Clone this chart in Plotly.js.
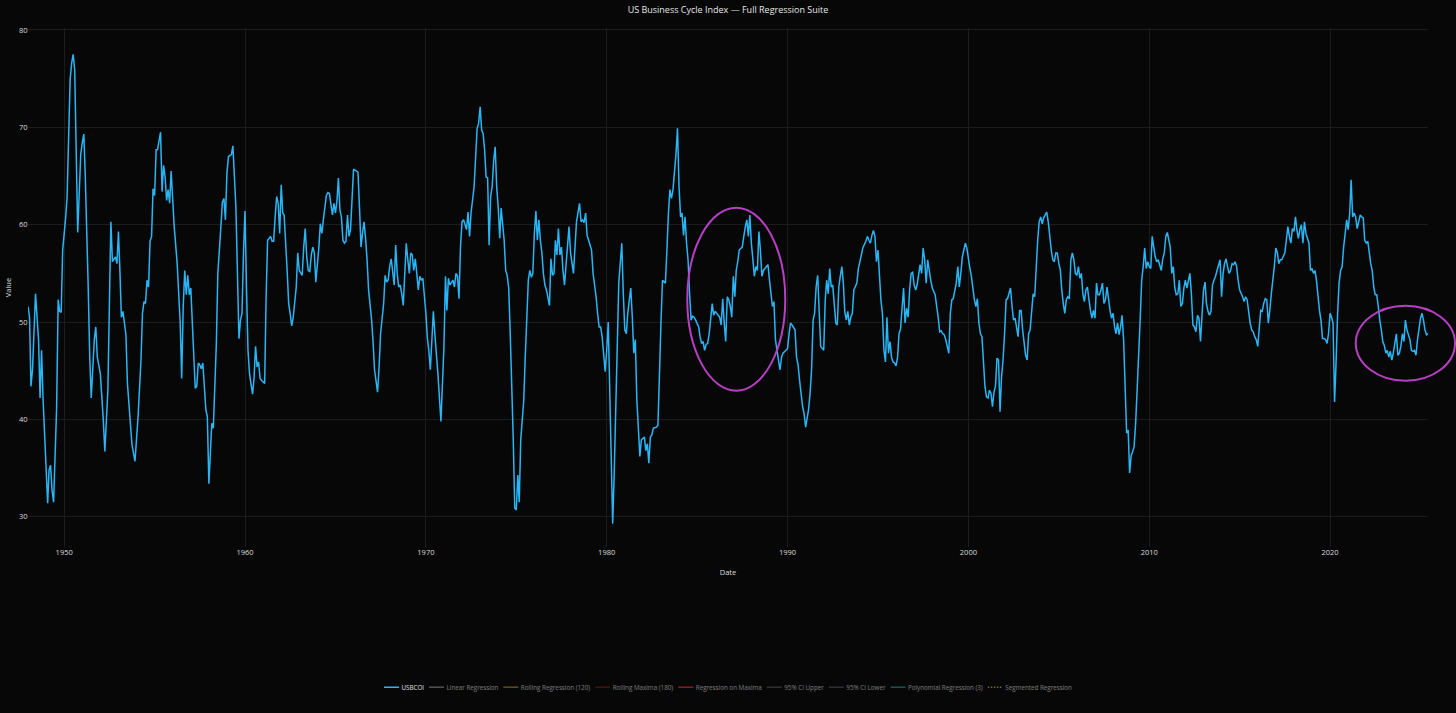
<!DOCTYPE html>
<html>
<head>
<meta charset="utf-8">
<script src="https://cdn.plot.ly/plotly-3.0.1.min.js"></script>
<style>
  html, body { margin: 0; padding: 0; background: #070707; overflow: hidden; }
  /* drawn at double size, then shrunk to the 1456x713 frame */
  #plot { width: 2912px; height: 1426px; transform: scale(0.5); transform-origin: 0 0; }
</style>
</head>
<body>
<div id="plot"></div>
<script>
// monthly readings of the index
var dates = [
  "1948-01","1948-02","1948-03","1948-04","1948-06","1948-08","1948-09","1948-10","1948-11",
  "1949-01","1949-02","1949-03","1949-04","1949-05","1949-06","1949-08","1949-09","1949-10","1949-11","1949-12",
  "1950-02","1950-03","1950-05","1950-06","1950-07","1950-08","1950-09","1950-10","1950-12",
  "1951-01","1951-02","1951-03","1951-05","1951-06","1951-07","1951-09","1951-10","1951-11",
  "1952-01","1952-03","1952-04","1952-06","1952-07","1952-08","1952-09","1952-11","1952-12",
  "1953-01","1953-02","1953-03","1953-04","1953-06","1953-07","1953-09","1953-10","1953-12",
  "1954-02","1954-04","1954-05","1954-06","1954-07","1954-08","1954-09","1954-10","1954-11","1954-12",
  "1955-01","1955-02","1955-03","1955-05","1955-06","1955-07","1955-08","1955-09","1955-10","1955-11","1955-12",
  "1956-02","1956-03","1956-04","1956-06","1956-07","1956-08","1956-09","1956-10","1956-11","1956-12",
  "1957-01","1957-02","1957-04","1957-05","1957-06","1957-07","1957-08","1957-09","1957-11","1957-12",
  "1958-01","1958-03","1958-04","1958-06","1958-07","1958-09","1958-10","1958-11","1958-12",
  "1959-01","1959-02","1959-04","1959-05","1959-07","1959-08","1959-09","1959-10","1959-11","1959-12",
  "1960-01","1960-02","1960-03","1960-04","1960-06","1960-07","1960-08","1960-09","1960-10","1960-11","1960-12",
  "1961-02","1961-03","1961-04","1961-06","1961-07","1961-08","1961-09","1961-10","1961-11","1961-12",
  "1962-01","1962-02","1962-03","1962-04","1962-05","1962-06","1962-07","1962-08","1962-09","1962-11","1962-12",
  "1963-01","1963-03","1963-04","1963-05","1963-06","1963-07","1963-08","1963-09","1963-10","1963-11","1963-12",
  "1964-02","1964-03","1964-04","1964-05","1964-07","1964-08","1964-09","1964-11","1964-12",
  "1965-01","1965-02","1965-03","1965-04","1965-05","1965-06","1965-07","1965-08","1965-09","1965-10","1965-11","1965-12",
  "1966-01","1966-03","1966-04","1966-05","1966-06","1966-07","1966-08","1966-09","1966-10","1966-11",
  "1967-01","1967-02","1967-03","1967-05","1967-06","1967-07","1967-09","1967-10","1967-11","1967-12",
  "1968-01","1968-02","1968-03","1968-04","1968-05","1968-06","1968-07","1968-08","1968-09","1968-10","1968-11","1968-12",
  "1969-01","1969-02","1969-03","1969-04","1969-05","1969-06","1969-07","1969-08","1969-09","1969-10","1969-11","1969-12",
  "1970-01","1970-02","1970-03","1970-04","1970-06","1970-07","1970-09","1970-11",
  "1971-01","1971-02","1971-03","1971-04","1971-05","1971-07","1971-08","1971-09","1971-10","1971-11","1971-12",
  "1972-01","1972-02","1972-04","1972-05","1972-06","1972-07","1972-09","1972-10","1972-11","1972-12",
  "1973-01","1973-02","1973-03","1973-04","1973-05","1973-06","1973-07","1973-08","1973-09","1973-10","1973-11","1973-12",
  "1974-01","1974-02","1974-03","1974-05","1974-06","1974-07","1974-08","1974-09","1974-10","1974-11","1974-12",
  "1975-01","1975-02","1975-03","1975-04","1975-06","1975-07","1975-08","1975-09","1975-10","1975-11","1975-12",
  "1976-01","1976-02","1976-03","1976-04","1976-05","1976-06","1976-07","1976-08","1976-09","1976-11","1976-12",
  "1977-01","1977-02","1977-03","1977-04","1977-05","1977-06","1977-07","1977-08","1977-09","1977-10","1977-12",
  "1978-01","1978-03","1978-04","1978-05","1978-07","1978-08","1978-09","1978-10","1978-11","1978-12",
  "1979-01","1979-03","1979-04","1979-06","1979-07","1979-08","1979-09","1979-10","1979-12",
  "1980-01","1980-02","1980-03","1980-04","1980-05","1980-06","1980-07","1980-08","1980-09","1980-11","1980-12",
  "1981-01","1981-02","1981-03","1981-05","1981-06","1981-07","1981-08","1981-09","1981-11","1981-12",
  "1982-02","1982-03","1982-04","1982-05","1982-06","1982-07","1982-08","1982-10","1982-11","1982-12",
  "1983-01","1983-02","1983-04","1983-05","1983-06","1983-07","1983-08","1983-09","1983-10","1983-11","1983-12",
  "1984-01","1984-02","1984-03","1984-04","1984-05","1984-06","1984-07","1984-08","1984-09","1984-10","1984-11","1984-12",
  "1985-02","1985-03","1985-04","1985-05","1985-06","1985-07","1985-08","1985-09","1985-10","1985-11","1985-12",
  "1986-01","1986-03","1986-04","1986-05","1986-06","1986-07","1986-08","1986-09","1986-10","1986-11","1986-12",
  "1987-01","1987-02","1987-03","1987-04","1987-05","1987-07","1987-08","1987-09","1987-10","1987-11","1987-12",
  "1988-01","1988-02","1988-03","1988-04","1988-05","1988-06","1988-07","1988-08","1988-09","1988-11","1988-12",
  "1989-01","1989-02","1989-03","1989-04","1989-05","1989-07","1989-08","1989-09","1989-10","1989-12",
  "1990-01","1990-02","1990-03","1990-04","1990-06","1990-07","1990-08","1990-09","1990-10","1990-11","1990-12",
  "1991-01","1991-03","1991-04","1991-05","1991-06","1991-07","1991-08","1991-09","1991-10","1991-11",
  "1992-01","1992-02","1992-03","1992-04","1992-05","1992-06","1992-07","1992-08","1992-09","1992-10","1992-11","1992-12",
  "1993-01","1993-02","1993-03","1993-04","1993-05","1993-06","1993-07","1993-08","1993-09","1993-11","1993-12",
  "1994-01","1994-02","1994-03","1994-05","1994-06","1994-07","1994-08","1994-09","1994-10","1994-11","1994-12",
  "1995-01","1995-02","1995-03","1995-04","1995-05","1995-06","1995-07","1995-08","1995-09","1995-10","1995-11","1995-12",
  "1996-01","1996-02","1996-03","1996-04","1996-06","1996-07","1996-08","1996-09","1996-10","1996-11","1996-12",
  "1997-01","1997-02","1997-03","1997-04","1997-05","1997-06","1997-07","1997-08","1997-09","1997-10","1997-11","1997-12",
  "1998-01","1998-03","1998-04","1998-05","1998-06","1998-07","1998-08","1998-09","1998-10","1998-11","1998-12",
  "1999-01","1999-02","1999-03","1999-05","1999-06","1999-07","1999-08","1999-09","1999-10","1999-11","1999-12",
  "2000-01","2000-02","2000-03","2000-04","2000-05","2000-06","2000-07","2000-08","2000-09","2000-10","2000-11","2000-12",
  "2001-01","2001-02","2001-03","2001-04","2001-05","2001-06","2001-07","2001-08","2001-09","2001-10","2001-11","2001-12",
  "2002-01","2002-02","2002-03","2002-04","2002-05","2002-06","2002-07","2002-08","2002-09","2002-10","2002-11","2002-12",
  "2003-01","2003-03","2003-04","2003-05","2003-06","2003-07","2003-08","2003-09","2003-10","2003-11","2003-12",
  "2004-01","2004-02","2004-03","2004-04","2004-05","2004-06","2004-07","2004-08","2004-09","2004-10","2004-11","2004-12",
  "2005-01","2005-02","2005-03","2005-04","2005-05","2005-06","2005-07","2005-08","2005-09","2005-10","2005-11","2005-12",
  "2006-01","2006-02","2006-03","2006-04","2006-05","2006-06","2006-07","2006-08","2006-09","2006-10","2006-11","2006-12",
  "2007-01","2007-02","2007-03","2007-04","2007-05","2007-06","2007-07","2007-08","2007-09","2007-10","2007-11","2007-12",
  "2008-01","2008-02","2008-03","2008-04","2008-05","2008-06","2008-07","2008-08","2008-09","2008-10","2008-11","2008-12",
  "2009-01","2009-02","2009-03","2009-04","2009-05","2009-06","2009-07","2009-08","2009-09","2009-10","2009-11","2009-12",
  "2010-01","2010-02","2010-03","2010-04","2010-05","2010-06","2010-07","2010-09","2010-10","2010-11","2010-12",
  "2011-01","2011-02","2011-03","2011-04","2011-05","2011-06","2011-07","2011-08","2011-09","2011-10","2011-11","2011-12",
  "2012-01","2012-02","2012-04","2012-05","2012-06","2012-07","2012-08","2012-09","2012-10","2012-11","2012-12",
  "2013-01","2013-02","2013-03","2013-04","2013-05","2013-06","2013-07","2013-08","2013-09","2013-10","2013-12",
  "2014-01","2014-02","2014-03","2014-04","2014-05","2014-06","2014-07","2014-08","2014-09","2014-10","2014-11","2014-12",
  "2015-01","2015-03","2015-04","2015-05","2015-06","2015-07","2015-08","2015-09","2015-10","2015-11","2015-12",
  "2016-01","2016-02","2016-03","2016-04","2016-05","2016-06","2016-07","2016-08","2016-09","2016-10","2016-11","2016-12",
  "2017-01","2017-02","2017-03","2017-04","2017-05","2017-07","2017-08","2017-09","2017-10","2017-11","2017-12",
  "2018-01","2018-02","2018-03","2018-04","2018-05","2018-06","2018-07","2018-08","2018-09","2018-10","2018-11","2018-12",
  "2019-01","2019-02","2019-03","2019-04","2019-05","2019-06","2019-07","2019-08","2019-09","2019-10","2019-11","2019-12",
  "2020-01","2020-02","2020-03","2020-04","2020-05","2020-06","2020-07","2020-08","2020-09","2020-10","2020-11","2020-12",
  "2021-01","2021-02","2021-03","2021-04","2021-05","2021-06","2021-07","2021-08","2021-09","2021-10","2021-11","2021-12",
  "2022-01","2022-02","2022-03","2022-04","2022-05","2022-06","2022-07","2022-08","2022-09","2022-10","2022-11","2022-12",
  "2023-01","2023-02","2023-03","2023-04","2023-05","2023-06","2023-07","2023-08","2023-09","2023-10","2023-11","2023-12",
  "2024-01","2024-02","2024-03","2024-04","2024-05","2024-06","2024-07","2024-08","2024-09","2024-10","2024-11","2024-12",
  "2025-01","2025-02","2025-03","2025-04","2025-05","2025-06"
];

var usbcoi = [
  51.6,50.5,43.4,45.1,52.9,48.2,42.2,47.1,42.0,
  35.1,31.4,34.8,35.3,32.7,31.5,41.2,52.3,51.1,51.0,57.4,
  60.8,62.9,74.9,76.6,77.5,75.9,67.7,59.2,67.2,
  68.4,69.3,65.3,53.6,46.4,42.2,48.2,49.5,46.4,
  44.7,39.9,36.7,43.0,51.6,60.3,56.2,56.7,56.0,
  59.3,55.0,50.5,51.1,48.7,43.7,39.6,37.4,35.7,
  40.3,46.1,50.9,52.1,51.9,54.3,53.6,58.3,58.8,63.7,
  63.0,67.7,67.7,69.5,63.4,66.1,64.9,62.5,63.6,62.2,65.5,
  59.8,57.7,56.0,49.9,44.2,51.6,55.3,52.8,54.8,52.8,
  53.5,49.9,43.2,43.4,45.8,45.6,45.2,45.8,41.0,40.3,
  33.4,39.6,39.1,47.8,55.0,59.8,62.3,62.7,60.5,
  65.3,67.0,67.2,68.1,61.8,54.3,48.3,50.2,50.9,57.1,
  61.4,53.3,47.1,44.7,42.6,44.2,47.5,45.4,45.9,44.2,44.0,
  43.7,52.3,58.4,58.8,58.3,58.3,60.8,62.9,62.2,59.1,
  64.1,61.2,61.0,58.4,55.3,51.9,50.9,49.6,50.5,53.6,57.1,
  55.3,54.8,57.7,59.6,56.7,55.3,55.2,56.9,57.7,57.1,54.1,
  57.7,60.1,59.1,60.5,63.0,63.3,63.2,61.0,62.2,
  61.2,62.5,64.8,61.5,60.8,58.4,58.1,58.3,61.0,58.8,59.5,62.7,
  65.7,65.5,65.4,61.8,57.7,59.1,60.3,58.6,56.4,53.3,
  50.2,47.8,45.1,42.8,45.4,48.8,51.9,54.8,54.1,54.3,
  55.7,56.5,55.3,53.8,57.9,55.0,53.6,53.8,52.9,51.7,55.0,58.1,
  56.4,55.0,57.1,56.9,55.3,56.5,55.0,53.3,54.7,54.3,54.5,52.9,
  50.9,48.3,47.1,45.1,51.1,48.8,44.7,39.8,
  47.5,54.7,51.2,54.5,53.8,54.3,53.6,55.0,54.7,52.4,57.7,
  60.3,60.5,59.5,61.3,58.8,61.2,63.9,67.0,69.9,70.4,
  72.1,69.7,69.4,67.7,64.9,64.8,57.9,62.9,63.9,66.6,68.0,63.9,
  61.8,58.6,61.7,58.4,55.3,54.8,53.5,48.8,44.0,37.9,30.9,
  30.7,34.3,31.5,37.9,42.0,46.4,50.9,54.3,55.3,54.6,55.0,
  59.1,61.4,58.4,60.5,58.4,57.1,55.0,53.8,53.3,51.7,56.5,
  54.8,55.0,58.4,56.9,59.6,56.9,57.7,55.3,53.8,55.7,59.8,
  57.1,55.0,57.7,60.3,62.2,60.3,60.5,60.2,61.2,58.9,
  58.4,57.4,55.0,52.6,50.9,49.5,49.5,48.5,44.9,
  47.1,50.0,43.0,36.2,29.3,34.5,41.3,48.2,54.0,58.1,52.9,
  49.2,48.8,50.9,53.5,50.5,46.8,48.2,42.0,36.2,37.9,
  38.2,36.8,37.5,35.5,38.2,38.4,39.1,39.2,39.4,44.7,
  49.9,54.3,54.0,57.4,61.2,63.6,62.7,63.6,65.6,67.3,69.9,
  63.9,60.8,61.2,58.9,60.8,58.1,56.4,52.9,50.2,50.6,50.5,50.2,
  49.5,48.5,47.8,48.0,47.1,47.7,47.8,48.8,50.5,51.9,50.7,
  51.1,50.7,50.5,49.7,52.4,49.9,48.0,52.6,52.3,51.6,50.5,
  54.7,52.6,55.3,56.2,57.4,57.7,58.8,59.8,60.5,58.8,61.0,
  58.1,56.4,54.7,55.7,55.3,59.3,57.4,54.7,55.3,55.7,55.9,
  54.3,52.9,51.6,52.1,48.2,46.1,45.1,46.4,46.8,47.1,
  47.3,48.8,49.9,49.7,49.2,46.4,45.6,44.0,42.7,41.3,40.6,
  39.2,41.0,42.7,45.1,50.2,50.9,53.6,54.8,51.6,47.5,
  47.1,52.3,54.3,52.9,55.5,53.6,53.8,51.6,49.9,49.7,53.6,54.7,
  55.7,54.0,51.1,50.2,51.1,49.7,50.5,50.9,53.3,54.0,55.5,
  56.2,56.9,57.6,58.3,58.8,58.4,58.1,58.9,59.4,58.8,56.2,
  57.4,55.0,52.3,50.9,47.1,45.9,50.5,46.8,48.0,46.4,45.9,45.8,
  45.5,46.4,48.8,49.3,53.5,49.9,51.4,50.5,53.3,55.0,55.1,
  53.8,53.3,53.8,55.0,55.9,55.0,57.6,56.4,54.0,56.4,55.3,54.3,
  53.5,52.8,51.6,50.5,49.0,49.1,48.8,48.7,48.2,47.5,46.8,
  50.9,52.3,52.4,54.0,55.7,53.6,55.0,56.7,57.4,58.1,57.6,
  56.5,55.5,54.7,53.6,52.3,51.6,52.4,49.9,48.8,48.5,46.1,43.4,
  42.3,42.2,43.0,42.7,41.3,42.8,43.4,46.3,46.1,40.8,44.4,46.1,
  48.8,52.3,52.4,52.9,53.5,51.6,50.2,50.4,49.5,48.5,51.2,51.2,
  49.2,46.6,46.1,48.8,49.2,51.2,52.9,52.6,55.7,58.4,60.3,
  60.8,60.1,60.7,61.0,61.3,60.3,58.8,57.4,56.4,56.2,57.1,57.1,
  56.0,55.3,53.3,51.9,50.9,52.3,52.6,52.4,56.4,57.1,56.4,55.0,
  54.8,55.7,54.5,55.0,52.9,52.1,53.3,53.6,52.3,51.2,50.4,51.2,
  50.4,54.0,52.8,52.8,53.3,54.0,51.9,52.3,53.6,52.3,51.2,50.4,
  50.9,49.5,48.8,49.9,48.7,49.5,50.7,48.2,42.7,38.6,38.9,34.5,
  36.3,36.7,37.2,39.6,43.0,46.4,50.2,54.3,55.7,57.6,55.5,56.2,
  55.7,55.5,58.8,57.7,56.7,56.2,56.4,55.3,56.5,57.1,58.8,
  59.2,58.3,57.7,55.0,55.7,53.5,52.8,52.9,54.3,51.6,51.9,53.5,
  54.3,53.5,55.0,52.9,49.7,49.5,49.0,50.7,50.4,48.0,50.9,
  53.3,54.1,51.9,51.1,50.7,51.1,53.8,54.3,54.7,55.3,56.4,
  52.6,55.0,56.0,56.5,55.7,55.0,55.3,56.0,55.9,56.2,55.7,54.3,
  53.3,52.6,52.1,52.6,52.3,51.2,49.9,49.2,49.0,48.5,48.2,
  47.5,49.5,51.2,51.1,51.9,52.4,52.3,49.9,51.2,52.9,54.3,55.7,
  57.6,57.1,56.0,56.4,56.4,57.1,58.4,59.8,58.8,58.1,59.6,
  59.3,60.8,59.5,58.6,59.5,60.0,58.1,60.3,59.1,58.6,58.1,55.3,
  55.5,55.0,55.3,54.3,52.6,51.2,50.2,48.3,48.3,48.2,47.8,48.8,
  50.9,50.5,49.9,41.8,45.8,50.9,54.0,55.3,55.7,57.7,59.1,60.5,
  59.5,61.2,64.6,60.8,61.2,60.8,59.6,60.3,61.0,60.8,60.7,58.4,
  58.1,58.3,57.1,56.0,55.3,53.6,52.8,52.8,51.6,50.2,49.2,48.0,
  47.6,46.8,47.1,46.4,47.0,46.1,46.8,47.8,48.8,46.6,46.8,47.5,
  48.8,48.0,50.2,49.2,48.7,48.2,47.1,47.0,47.1,46.6,48.2,49.2,
  50.4,50.9,50.2,49.2,48.7,48.8
];

// regression overlays are switched off in the picture (legend only)
var overlayNames = ["Linear Regression", "Rolling Regression (120)", "Rolling Maxima (180)",
                    "Regression on Maxima", "95% CI Upper", "95% CI Lower",
                    "Polynomial Regression (3)", "Segmented Regression"];
var overlayColors = ["#a0a0a0", "#b39b2e", "#8b1f1f", "#ff3b3b", "#5c5c5c", "#5c5c5c", "#2ca58d", "#d4d43a"];
var overlayDash = ["solid", "solid", "solid", "solid", "solid", "solid", "solid", "dot"];

var data = [{
    x: dates,
    y: usbcoi,
    type: "scatter",
    mode: "lines",
    name: "USBCOI",
    line: {color: "#29b6f6", width: 3}
}];

// hidden traces carry no values, one empty slot keeps their legend entry
overlayNames.forEach(function(name, i) {
    data.push({
        x: [dates[0]],
        y: [null],
        type: "scatter",
        mode: "lines",
        name: name,
        visible: "legendonly",
        line: {color: overlayColors[i], width: 3, dash: overlayDash[i]}
    });
});

var layout = {
    width: 2912,
    height: 1426,
    title: {
        text: "US Business Cycle Index — Full Regression Suite",
        font: {size: 18, color: "#e6e6e6"},
        x: 0.5, xanchor: "center",
        yref: "container", y: 0.986, yanchor: "middle"
    },
    paper_bgcolor: "#070707",
    plot_bgcolor: "#070707",
    font: {family: "Open Sans, Arial, sans-serif", color: "#dcdcdc", size: 15},
    margin: {l: 56, r: 56, t: 56, b: 332},
    xaxis: {
        title: {text: "Date", font: {size: 15}},
        type: "date",
        range: ["1948-01-01", "2025-06-01"],
        dtick: "M120",
        tick0: "1950-01-01",
        tickformat: "%Y",
        gridcolor: "#1c1c1c",
        gridwidth: 2,
        zeroline: false,
        showline: false
    },
    yaxis: {
        title: {text: "Value", font: {size: 15}, standoff: 12},
        range: [26.9, 80.2],
        dtick: 10,
        gridcolor: "#1c1c1c",
        gridwidth: 2,
        zeroline: false,
        showline: false
    },
    legend: {
        orientation: "h",
        x: 0.5, xanchor: "center",
        y: -0.256, yanchor: "top",
        font: {size: 12.5, color: "#e0e0e0"},
        bgcolor: "rgba(0,0,0,0)"
    },
    shapes: [
        {type: "circle", xref: "paper", yref: "paper",
         x0: 0.4709, x1: 0.5409, y0: 0.3012, y1: 0.6538,
         line: {color: "#b83fc4", width: 4}},
        {type: "circle", xref: "paper", yref: "paper",
         x0: 0.9484, x1: 1.0193, y0: 0.3204, y1: 0.4649,
         line: {color: "#b83fc4", width: 4}}
    ],
    showlegend: true
};

Plotly.newPlot("plot", data, layout, {displayModeBar: false, responsive: false});
</script>
</body>
</html>
